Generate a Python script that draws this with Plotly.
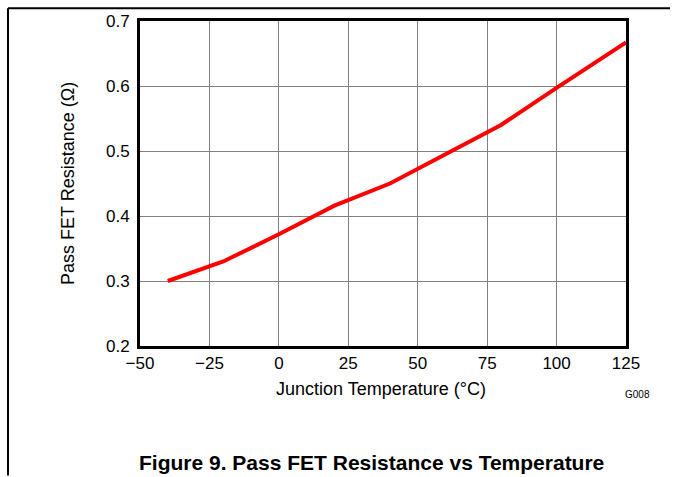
import plotly.graph_objects as go

temps = [-40, -20, 0, 20, 40, 60, 80, 100, 125]
resistance = [0.300, 0.330, 0.372, 0.416, 0.450, 0.495, 0.540, 0.597, 0.667]
x_ticks = [-50, -25, 0, 25, 50, 75, 100, 125]
x_tick_labels = ["\u221250", "\u221225", "0", "25", "50", "75", "100", "125"]
y_ticks = [0.2, 0.3, 0.4, 0.5, 0.6, 0.7]
y_tick_labels = ["0.2", "0.3", "0.4", "0.5", "0.6", "0.7"]

W, H = 673, 477
L, R, T, B = 140, 47, 17, 131
pw, ph = W - L - R, H - T - B

def px(x):
    return (x - L) / pw

def py(y):
    return (H - B - y) / ph

font = "Liberation Sans, Arial, sans-serif"

fig = go.Figure()
fig.add_trace(go.Scatter(x=temps, y=resistance, mode="lines",
                         line=dict(color="#ff0000", width=4), showlegend=False))

fig.update_layout(
    width=W, height=H,
    margin=dict(l=L, r=R, t=T, b=B),
    paper_bgcolor="white", plot_bgcolor="white",
    font=dict(family=font, size=17, color="black"),
    xaxis=dict(range=[-50, 125], tickvals=x_ticks, ticktext=x_tick_labels,
               showgrid=True, gridcolor="#808080", gridwidth=1,
               showline=True, linecolor="black", linewidth=3, mirror=True,
               ticks="", zeroline=False, tickfont=dict(size=17)),
    yaxis=dict(range=[0.2, 0.7], tickvals=y_ticks, ticktext=y_tick_labels,
               showgrid=True, gridcolor="#808080", gridwidth=1,
               showline=True, linecolor="black", linewidth=3, mirror=True,
               ticks="", zeroline=False, tickfont=dict(size=17),
               ticklabelstandoff=4),
    shapes=[
        dict(type="line", xref="paper", yref="paper",
             x0=px(8), x1=px(670), y0=py(4), y1=py(4),
             line=dict(color="black", width=2)),
        dict(type="line", xref="paper", yref="paper",
             x0=px(8), x1=px(8), y0=py(4), y1=py(477),
             line=dict(color="black", width=2)),
    ],
    annotations=[
        dict(text="Junction Temperature (\u00b0C)", xref="paper", yref="paper",
             x=px(381), y=py(390), showarrow=False, xanchor="center", yanchor="middle",
             font=dict(size=18)),
        dict(text="Pass FET Resistance (\u03a9)", xref="paper", yref="paper",
             x=px(68), y=py(182), showarrow=False, xanchor="center", yanchor="middle",
             textangle=-90, font=dict(size=18)),
        dict(text="G008", xref="paper", yref="paper",
             x=px(637), y=py(395), showarrow=False, xanchor="center", yanchor="middle",
             font=dict(size=10)),
        dict(text="<b>Figure 9. Pass FET Resistance vs Temperature</b>", xref="paper", yref="paper",
             x=px(371), y=py(464), showarrow=False, xanchor="center", yanchor="middle",
             font=dict(size=21)),
    ],
)

fig.write_html("out.html")
